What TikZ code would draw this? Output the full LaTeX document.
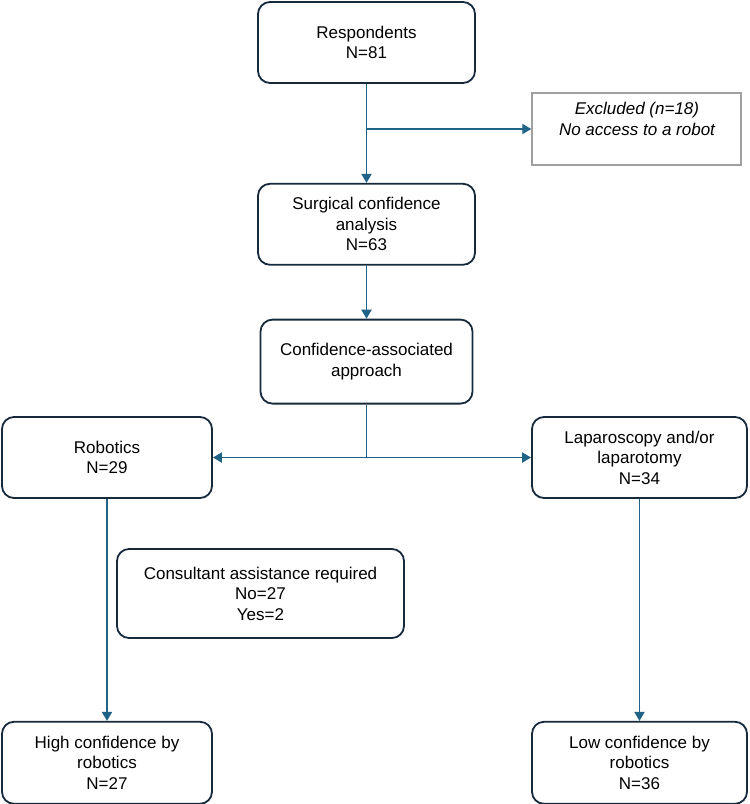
\documentclass[tikz,border=0pt]{standalone}
\usepackage{fontspec}
\setmainfont{Liberation Sans}
\usetikzlibrary{arrows.meta, positioning}

\definecolor{boxline}{RGB}{22,42,60}
\definecolor{flowblue}{RGB}{31,99,135}
\definecolor{exclgray}{RGB}{160,160,160}

\begin{document}
\begin{tikzpicture}[
    x=1pt, y=-1pt,
    stage/.style={rectangle, draw=boxline, line width=1.8pt, rounded corners=12pt,
                  align=center, font=\fontsize{17}{20.5}\selectfont, inner sep=2pt},
    excluded/.style={rectangle, draw=exclgray, line width=1.4pt,
                     minimum width=209pt, minimum height=72pt},
    flow/.style={-{Triangle[length=9pt, width=10pt]}, draw=flowblue, line width=1.9pt},
    branch/.style={draw=flowblue, line width=1.9pt}
]
\useasboundingbox (0,0) rectangle (750,804);

% Boxes
\node[stage, minimum width=217pt, minimum height=81pt] (resp) at (366.5,42.5) {Respondents\\N=81};
\node[stage, minimum width=217pt, minimum height=81pt, below=99pt of resp] (surg) {Surgical confidence\\analysis\\N=63};
\node[stage, minimum width=212pt, minimum height=84pt, below=53pt of surg] (conf) {Confidence-associated\\approach};
\node[excluded] (excl) at (636.5,129) {};
\node[align=center, inner sep=0pt, font=\fontsize{17}{20.5}\selectfont\itshape] (excltext) at (637,119) {Excluded (n=18)\\No access to a robot};
\node[stage, minimum width=210pt, minimum height=81pt] (rob) at (107,457.5) {Robotics\\N=29};
\node[stage, minimum width=215pt, minimum height=81pt] (lap) at (639.5,457.5) {Laparoscopy and/or\\laparotomy\\N=34};
\node[stage, minimum width=287pt, minimum height=89pt] (cons) at (260.5,593.5) {Consultant assistance required\\No=27\\Yes=2};
\node[stage, minimum width=210pt, minimum height=82pt, below=222pt of rob] (high) {High confidence by\\robotics\\N=27};
\node[stage, minimum width=215pt, minimum height=82pt, below=222pt of lap] (low) {Low confidence by\\robotics\\N=36};

% Arrows
\coordinate (split) at (conf.south |- rob.east);
\draw[flow] (resp) -- (surg);
\draw[flow] (resp.south |- excl.west) -- (excl.west);
\draw[flow] (surg) -- (conf);
\draw[branch] (conf.south) -- (split);
\draw[flow] (split) -- (rob.east);
\draw[flow] (split) -- (lap.west);
\draw[flow] (rob) -- (high);
\draw[flow] (lap) -- (low);

\end{tikzpicture}
\end{document}
